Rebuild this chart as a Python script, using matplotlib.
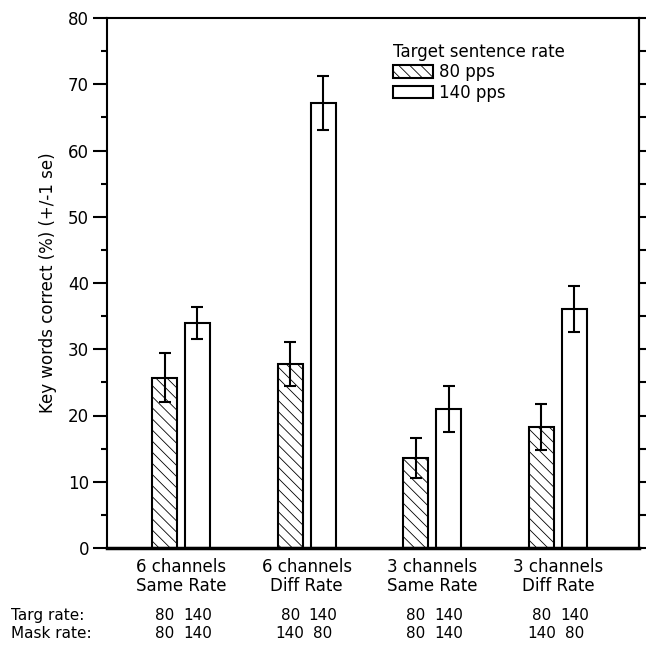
import matplotlib
matplotlib.use("Agg")
import matplotlib.pyplot as plt
import numpy as np

# dados
grupos = ["6 channels\nSame Rate", "6 channels\nDiff Rate", "3 channels\nSame Rate", "3 channels\nDiff Rate"]
media_80 = [25.7, 27.8, 13.6, 18.3]
erro_80 = [3.7, 3.3, 3.0, 3.45]
media_140 = [34.0, 67.2, 21.0, 36.1]
erro_140 = [2.45, 4.05, 3.45, 3.45]
targ_rate = [("80", "140"), ("80", "140"), ("80", "140"), ("80", "140")]
mask_rate = [("80", "140"), ("140", "80"), ("80", "140"), ("140", "80")]

plt.rcParams["font.family"] = ["DejaVu Sans"]
plt.rcParams["hatch.linewidth"] = 0.6
plt.rcParams["hatch.color"] = "#666666"

fig = plt.figure(figsize=(6.49, 6.48), dpi=100)
ax = fig.add_axes([107 / 649, 100 / 648, 532 / 649, 530 / 648])

x = np.arange(len(grupos))
largura = 0.199
desloc = 0.131

ax.bar(x - desloc, media_80, largura, color="white", edgecolor="black",
       linewidth=1.5, hatch="\\\\\\", label="80 pps")
ax.bar(x + desloc, media_140, largura, color="white", edgecolor="black",
       linewidth=1.5, label="140 pps")
ax.errorbar(x - desloc, media_80, yerr=erro_80, fmt="none", ecolor="black",
            elinewidth=1.5, capsize=4.3, capthick=1.5)
ax.errorbar(x + desloc, media_140, yerr=erro_140, fmt="none", ecolor="black",
            elinewidth=1.5, capsize=4.3, capthick=1.5)

ax.set_xlim(-0.589, 3.645)
ax.set_ylim(0, 80)

for s in ax.spines.values():
    s.set_linewidth(1.5)
ax.spines["bottom"].set_linewidth(2.5)

ax.set_yticks(np.arange(0, 81, 10))
ax.set_yticks(np.arange(5, 80, 10), minor=True)
ax.tick_params(axis="y", which="major", direction="out", length=10, width=1.5,
               labelsize=12, pad=3)
ax.tick_params(axis="y", which="minor", direction="out", length=4.5, width=1.5)

# eixo da direita com ticks curtos
axr = ax.twinx()
axr.set_ylim(0, 80)
axr.set_yticks(np.arange(0, 81, 5))
axr.set_yticklabels([])
axr.tick_params(axis="y", direction="out", length=5, width=1.5)
axr.spines["right"].set_linewidth(1.5)
for lado in ["left", "top", "bottom"]:
    axr.spines[lado].set_visible(False)

ax.set_xticks(x)
ax.set_xticklabels(grupos, fontsize=12, linespacing=1.1)
ax.tick_params(axis="x", length=0, pad=7)

ax.set_ylabel("Key words correct (%) (+/-1 se)", fontsize=12, labelpad=8)

# linhas de taxa
trans = ax.get_xaxis_transform()
y_targ = -0.128
y_mask = -0.162
ax.text(-0.585 - 0.77, y_targ, "Targ rate:", transform=trans, fontsize=11,
        ha="left", va="center")
ax.text(-0.585 - 0.77, y_mask, "Mask rate:", transform=trans, fontsize=11,
        ha="left", va="center")
for i in range(len(grupos)):
    for j, d in enumerate([-desloc, desloc]):
        ax.text(x[i] + d, y_targ, targ_rate[i][j], transform=trans, fontsize=11,
                ha="center", va="center")
        ax.text(x[i] + d, y_mask, mask_rate[i][j], transform=trans, fontsize=11,
                ha="center", va="center")

leg = ax.legend(title="Target sentence rate", loc="upper left",
                bbox_to_anchor=(0.515, 0.975), frameon=False, fontsize=12,
                title_fontsize=12, handlelength=2.4, handleheight=0.75,
                handletextpad=0.4, labelspacing=0.15, borderpad=0.2)
leg._legend_box.align = "left"

fig.savefig("out.png", dpi=100)
